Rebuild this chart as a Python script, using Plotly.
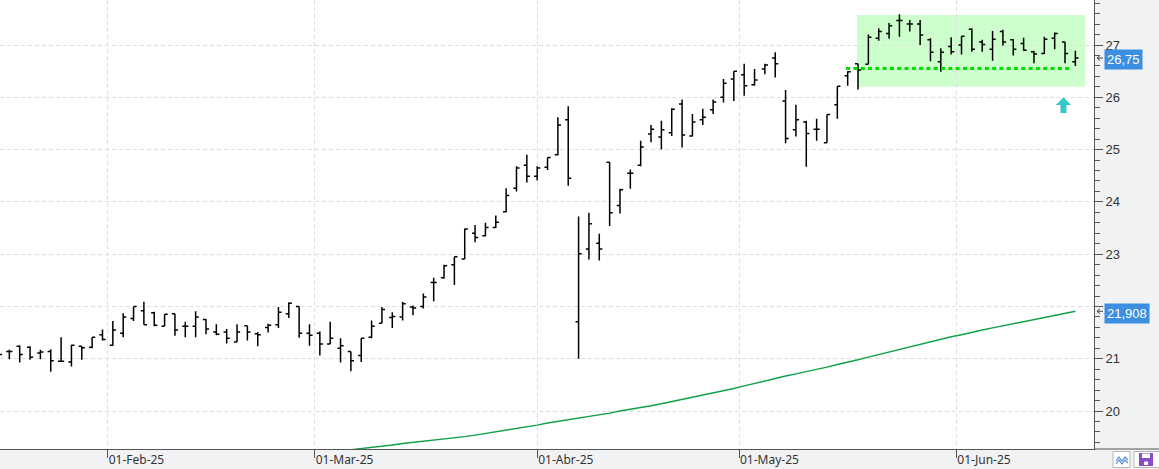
import pandas as pd
import plotly.graph_objects as go

# ---------------- data ----------------
holidays = ["2025-04-18", "2025-04-21", "2025-05-01"]
dates = [d for d in pd.bdate_range("2025-01-17", "2025-06-17") if d.strftime("%Y-%m-%d") not in holidays]

opens = [21.10, 21.14, 21.24, 21.22, 21.11, 21.14, 20.95, 20.94, 21.24, 21.22,
         21.46, 21.26, 21.49, 21.77, 21.92, 21.88, 21.62, 21.86, 21.62, 21.62,
         21.75, 21.51, 21.51, 21.32, 21.63, 21.48, 21.60, 21.65, 21.86, 22.00,
         21.49, 21.49, 21.28, 21.20, 21.14, 21.06, 21.41, 21.68, 21.79, 21.80,
         21.99, 22.00, 22.46, 22.55, 22.80, 22.91, 23.40, 23.35, 23.51, 23.81,
         24.26, 24.70, 24.49, 24.66, 24.90, 25.57, 21.71, 23.10, 23.21, 24.76,
         23.93, 24.55, 24.70, 25.30, 25.24, 25.32, 25.87, 25.26, 25.57, 25.76,
         26.00, 26.35, 26.43, 26.24, 26.54, 26.75, 25.93, 25.38, 25.53, 25.39,
         25.13, 25.86, 26.41, 26.64, 26.63, 27.13, 27.22, 27.47, 27.40, 27.40,
         27.10, 26.68, 26.97, 27.00, 27.30, 27.06, 26.92, 27.26, 27.10, 27.03,
         26.87, 26.84, 27.13, 27.06, 26.68]
highs = [21.13, 21.17, 21.26, 21.24, 21.17, 21.18, 21.41, 21.27, 21.24, 21.41,
         21.56, 21.72, 21.87, 22.00, 22.09, 21.90, 21.85, 21.86, 21.71, 21.91,
         21.76, 21.66, 21.57, 21.66, 21.63, 21.51, 21.67, 21.99, 22.08, 22.00,
         21.66, 21.52, 21.71, 21.39, 21.14, 21.39, 21.73, 21.99, 21.89, 22.09,
         22.02, 22.25, 22.55, 22.80, 22.95, 23.49, 23.56, 23.60, 23.74, 24.26,
         24.68, 24.90, 24.68, 24.85, 25.62, 25.83, 23.72, 23.79, 23.39, 24.76,
         24.25, 24.62, 25.17, 25.47, 25.55, 25.79, 25.96, 25.68, 25.78, 25.96,
         26.35, 26.50, 26.64, 26.54, 26.64, 26.86, 26.14, 25.86, 25.55, 25.59,
         25.67, 26.21, 26.50, 26.64, 27.20, 27.32, 27.42, 27.59, 27.48, 27.48,
         27.13, 26.94, 27.15, 27.17, 27.32, 27.10, 27.27, 27.29, 27.11, 27.14,
         26.89, 27.16, 27.24, 27.06, 26.89]
lows = [21.05, 20.99, 20.93, 20.98, 20.99, 20.75, 20.94, 20.85, 20.98, 21.20,
        21.35, 21.25, 21.41, 21.72, 21.65, 21.62, 21.62, 21.44, 21.41, 21.41,
        21.47, 21.45, 21.29, 21.32, 21.35, 21.24, 21.50, 21.59, 21.78, 21.40,
        21.25, 21.06, 21.28, 20.93, 20.76, 20.94, 21.39, 21.68, 21.59, 21.73,
        21.83, 21.96, 22.10, 22.53, 22.41, 22.91, 23.23, 23.34, 23.50, 23.80,
        24.20, 24.37, 24.41, 24.61, 24.89, 24.31, 21.00, 22.90, 22.88, 23.54,
        23.78, 24.25, 24.68, 25.14, 25.00, 25.26, 25.04, 25.25, 25.47, 25.68,
        25.90, 25.93, 26.03, 26.22, 26.44, 26.38, 25.12, 25.25, 24.67, 25.17,
        25.13, 25.59, 26.22, 26.15, 26.63, 27.08, 27.12, 27.16, 27.26, 27.00,
        26.69, 26.49, 26.82, 26.82, 26.87, 26.87, 26.70, 26.99, 26.80, 26.89,
        26.65, 26.83, 26.92, 26.65, 26.60]
closes = [21.08, 21.14, 21.08, 21.03, 21.13, 20.96, 20.95, 21.26, 21.21, 21.41,
          21.37, 21.55, 21.80, 22.00, 21.65, 21.64, 21.85, 21.55, 21.62, 21.80,
          21.57, 21.47, 21.39, 21.51, 21.51, 21.46, 21.64, 21.89, 22.06, 21.49,
          21.45, 21.28, 21.39, 21.25, 20.96, 21.39, 21.62, 21.94, 21.81, 22.05,
          21.97, 22.18, 22.46, 22.78, 22.95, 23.48, 23.32, 23.51, 23.61, 24.12,
          24.65, 24.49, 24.65, 24.85, 25.47, 24.45, 23.01, 23.58, 23.10, 23.79,
          24.23, 24.55, 25.05, 25.39, 25.38, 25.77, 25.28, 25.53, 25.62, 25.91,
          26.27, 26.50, 26.22, 26.33, 26.62, 26.64, 25.21, 25.57, 25.31, 25.39,
          25.67, 26.21, 26.49, 26.52, 27.15, 27.26, 27.37, 27.47, 27.40, 27.19,
          26.86, 26.86, 26.87, 27.17, 26.92, 27.01, 27.11, 27.06, 26.92, 26.90,
          26.83, 27.11, 27.22, 26.84, 26.75]

# moving average (visible part, from bar 34 on)
ma_start = 34
ma_values = [19.26, 19.28, 19.31, 19.33, 19.35, 19.38, 19.40, 19.42, 19.44, 19.46,
             19.49, 19.51, 19.54, 19.57, 19.60, 19.64, 19.67, 19.70, 19.73, 19.77,
             19.80, 19.83, 19.87, 19.90, 19.93, 19.96, 20.00, 20.03, 20.06, 20.10,
             20.14, 20.18, 20.22, 20.26, 20.30, 20.35, 20.39, 20.43, 20.48, 20.53,
             20.58, 20.62, 20.67, 20.71, 20.75, 20.80, 20.84, 20.89, 20.93, 20.98,
             21.03, 21.08, 21.13, 21.17, 21.22, 21.27, 21.32, 21.37, 21.42, 21.46,
             21.51, 21.55, 21.59, 21.63, 21.67, 21.71, 21.75, 21.79, 21.84, 21.88,
             21.908]

month_names = {1: "Ene", 2: "Feb", 3: "Mar", 4: "Abr", 5: "May", 6: "Jun"}
y_ticks = [20, 21, 22, 23, 24, 25, 26, 27]
y_tick_text = ["20", "21", "", "23", "24", "25", "26", "27"]  # 22 hidden under the MA label
support_level = 26.55
box_low, box_high = 26.20, 27.575

# ---------------- derived ----------------
idx = list(range(len(dates)))
tick_pos, tick_txt = [], []
seen = set()
for i, d in enumerate(dates):
    key = (d.year, d.month)
    if key in seen:
        continue
    seen.add(key)
    if i == 0:
        continue
    pos = i if d.day == 1 else i - 0.5
    tick_pos.append(pos)
    tick_txt.append(f"01-{month_names[d.month]}-{d.strftime('%y')}")

W, H = 1159, 469
L, R, T, B = 0, 65, 0, 20
pw = W - L - R
ph = H - T - B
y_range = [19.274, 27.861]
upp = (y_range[1] - y_range[0]) / ph  # price units per pixel

fig = go.Figure()
fig.add_trace(go.Ohlc(
    x=idx, open=opens, high=highs, low=lows, close=closes,
    increasing=dict(line=dict(color="black", width=1.5)),
    decreasing=dict(line=dict(color="black", width=1.5)),
    tickwidth=0.3, hoverinfo="skip", showlegend=False))
fig.add_trace(go.Scatter(
    x=idx[ma_start:ma_start + len(ma_values)], y=ma_values, mode="lines",
    line=dict(color="#10a048", width=1.4), hoverinfo="skip", showlegend=False))

shapes = []
# green consolidation box
shapes.append(dict(type="rect", xref="x", yref="y", x0=82.9, x1=104.93,
                   y0=box_low, y1=box_high, fillcolor="#ccffcc",
                   line=dict(width=0), layer="below"))
# dotted support line
shapes.append(dict(type="line", xref="x", yref="y", x0=81.85, x1=103.55,
                   y0=support_level, y1=support_level,
                   line=dict(color="#00e000", width=3, dash="4px,3.3px")))
# cyan up arrow
cx = 102.85
hw, sw = 0.73, 0.29
yt, yb, ys = 26.0, 25.853, 25.70
path = (f"M {cx} {yt} L {cx+hw} {yb} L {cx+sw} {yb} L {cx+sw} {ys} "
        f"L {cx-sw} {ys} L {cx-sw} {yb} L {cx-hw} {yb} Z")
shapes.append(dict(type="path", xref="x", yref="y", path=path,
                   fillcolor="#35c8c8", line=dict(width=0)))


def px(xp):
    return (xp - L) / pw


def py(yp):
    return (ph - yp) / ph


# bottom line extending under right axis
shapes.append(dict(type="line", xref="paper", yref="paper", x0=px(1094), x1=px(1159),
                   y0=0, y1=0, line=dict(color="#555555", width=1)))
# icons bottom-right
shapes.append(dict(type="rect", xref="paper", yref="paper", x0=px(1113), x1=px(1130),
                   y0=py(467.5), y1=py(451.5), fillcolor="white",
                   line=dict(color="#b8b8b8", width=1)))
for off in (0, 3):
    shapes.append(dict(type="path", xref="paper", yref="paper",
                       path=(f"M {px(1116)} {py(461+off)} L {px(1119)} {py(457+off)} "
                             f"L {px(1122)} {py(461+off)} L {px(1125)} {py(457+off)} "
                             f"L {px(1128)} {py(460+off)}"),
                       line=dict(color="#5a8fd8", width=1.2)))
shapes.append(dict(type="rect", xref="paper", yref="paper", x0=px(1134), x1=px(1160),
                   y0=py(467.5), y1=py(451.5), fillcolor="white",
                   line=dict(color="#b8b8b8", width=1)))
shapes.append(dict(type="rect", xref="paper", yref="paper", x0=px(1139), x1=px(1153),
                   y0=py(466), y1=py(453), fillcolor="#8a4cc8", line=dict(width=0)))
shapes.append(dict(type="rect", xref="paper", yref="paper", x0=px(1142), x1=px(1150),
                   y0=py(458), y1=py(453.5), fillcolor="white", line=dict(width=0)))
shapes.append(dict(type="rect", xref="paper", yref="paper", x0=px(1144), x1=px(1148),
                   y0=py(465), y1=py(461.5), fillcolor="white", line=dict(width=0)))

LABEL_FONT = "Liberation Sans"
annotations = []
for val, txt in [(closes[-1], "26,75"), (ma_values[-1], "21,908")]:
    annotations.append(dict(xref="paper", yref="y", x=px(1104), y=val - 1.8 * upp, text=txt,
                            xanchor="left", yanchor="middle", showarrow=False,
                            bgcolor="#3b8ee0", borderpad=2,
                            font=dict(family=LABEL_FONT, size=13, color="white")))
    # small pointer arrow drawn as a shape
    d = 2.5 * upp
    shapes.append(dict(type="path", xref="paper", yref="y",
                       path=(f"M {px(1103)} {val} L {px(1097)} {val} "
                             f"M {px(1100)} {val + d} L {px(1097)} {val} L {px(1100)} {val - d}"),
                       line=dict(color="#444444", width=1)))

fig.update_layout(
    width=W, height=H,
    margin=dict(l=L, r=R, t=T, b=B),
    paper_bgcolor="#f1f2f4", plot_bgcolor="white",
    shapes=shapes, annotations=annotations,
    xaxis=dict(range=[0.097, 105.8], tickmode="array", tickvals=tick_pos, ticktext=tick_txt,
               ticks="outside", ticklen=8, tickcolor="#555555", tickwidth=1,
               ticklabelposition="outside right",
               showgrid=True, gridcolor="#dedede", griddash="4px,3px", gridwidth=1,
               showline=True, linecolor="#555555", linewidth=1, zeroline=False,
               rangeslider=dict(visible=False),
               tickfont=dict(family="Noto Sans", size=12, color="#333333")),
    yaxis=dict(side="right", range=y_range, tickmode="array",
               tickvals=y_ticks, ticktext=y_tick_text,
               ticks="outside", ticklen=8, tickcolor="#555555", tickwidth=1,
               minor=dict(tick0=20, dtick=0.2, ticks="outside", ticklen=5,
                          tickcolor="#555555", showgrid=False),
               showgrid=True, gridcolor="#dedede", griddash="4px,3px", gridwidth=1,
               showline=True, linecolor="#555555", linewidth=1, zeroline=False,
               tickfont=dict(family=LABEL_FONT, size=13, color="#333333")),
)

fig.write_html("out.html")
